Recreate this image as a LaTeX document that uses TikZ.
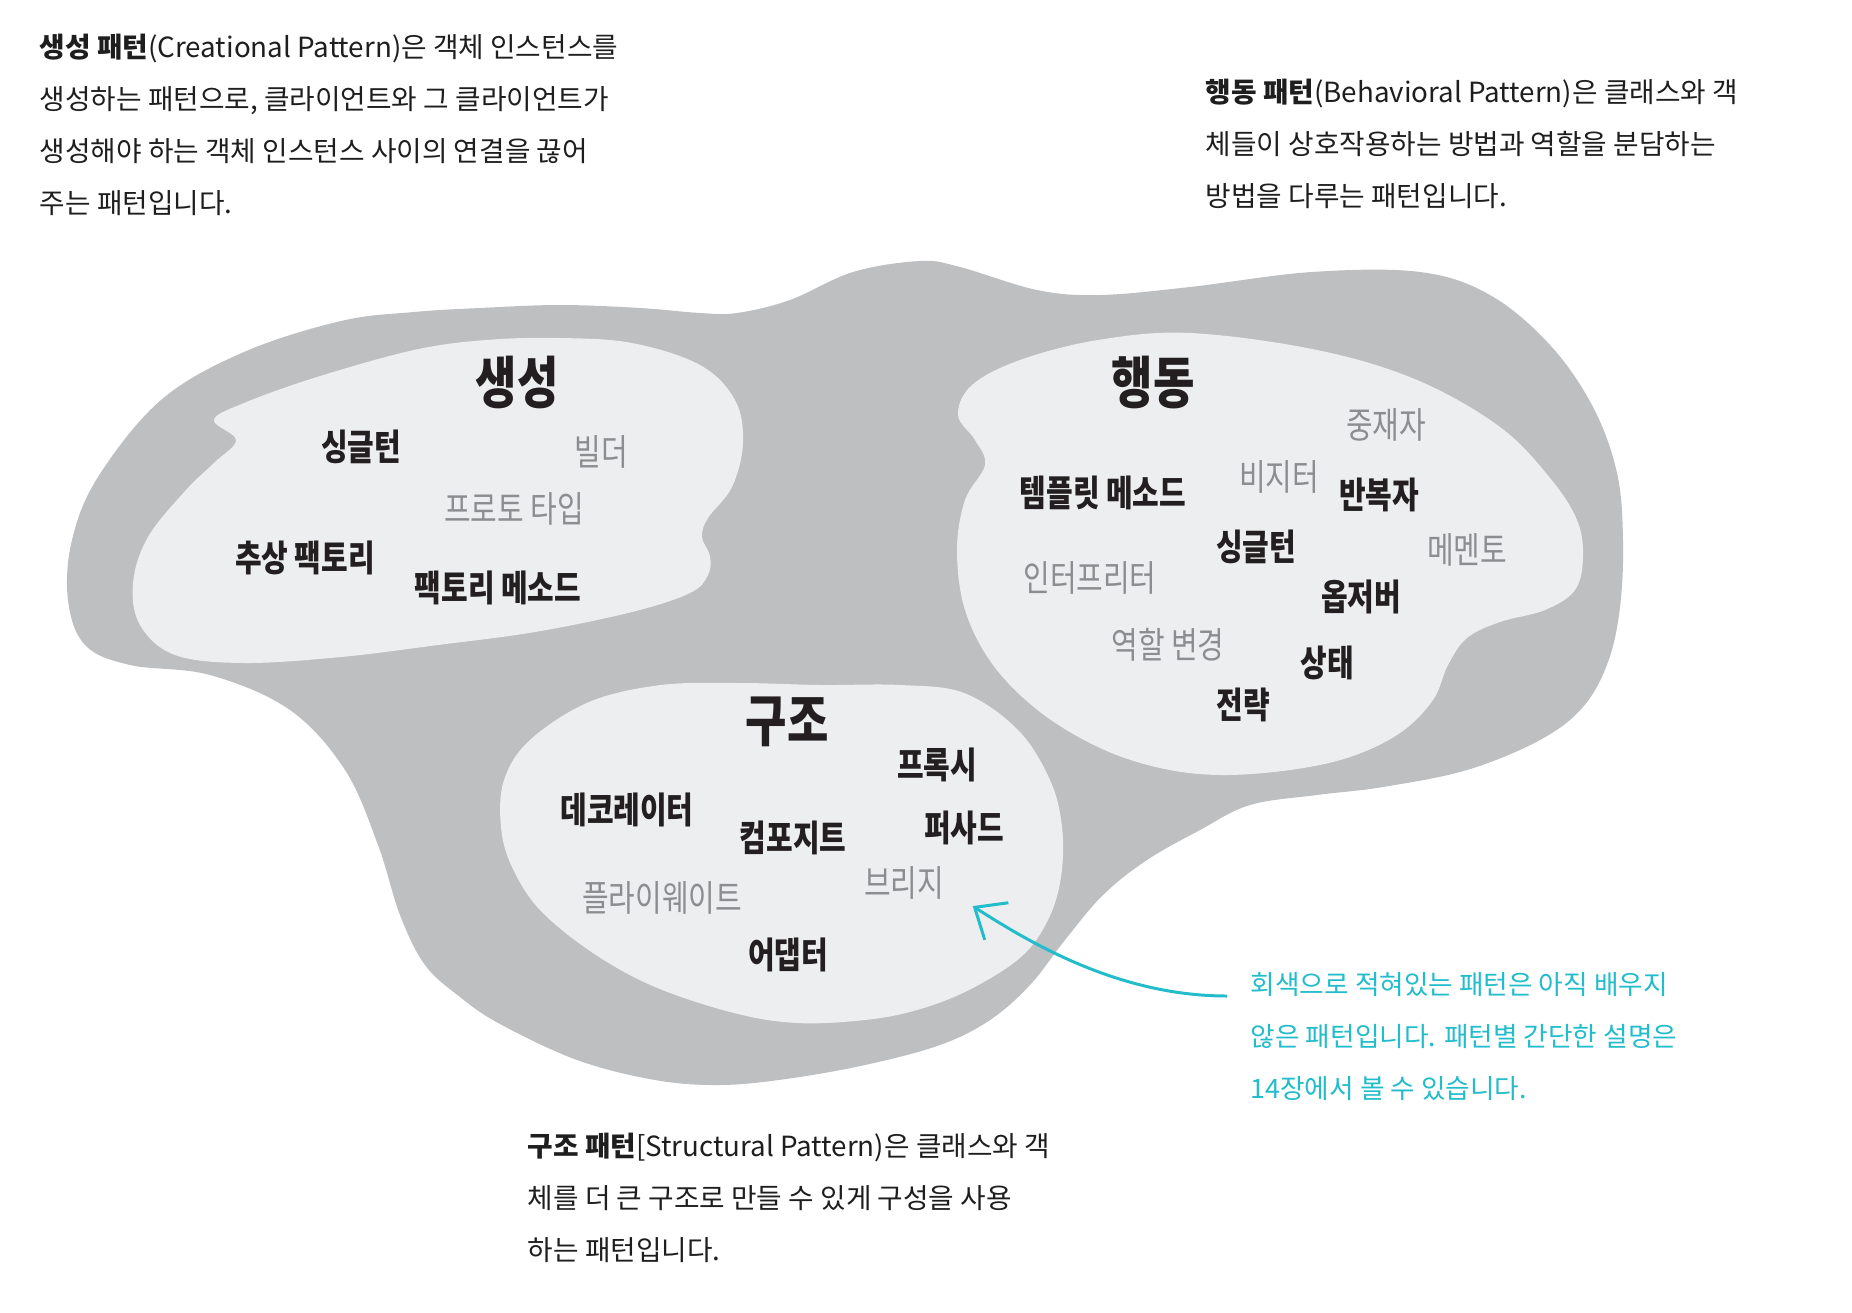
\documentclass[tikz,border=0pt]{standalone}
\usepackage{fontspec}
\setmainfont{Noto Sans CJK KR}
\newfontfamily\labelfont[FakeStretch=0.8]{Noto Sans CJK KR}
\usetikzlibrary{arrows.meta}

\definecolor{outergray}{HTML}{BEBFC1}
\definecolor{innergray}{HTML}{EDEEEF}
\definecolor{knowntext}{HTML}{231F20}
\definecolor{unknowntext}{HTML}{8B8D90}
\definecolor{desctext}{HTML}{1E1E1E}
\definecolor{notecyan}{HTML}{22BCCB}

\tikzset{
  outerblob/.style={fill=outergray},
  innerblob/.style={fill=innergray},
  grouptitle/.style={font=\labelfont\bfseries\fontsize{16}{18}\selectfont, text=knowntext, inner sep=0pt},
  known/.style={font=\labelfont\bfseries\fontsize{10.3}{12}\selectfont, text=knowntext, inner sep=0pt},
  unknown/.style={font=\labelfont\fontsize{10.3}{12}\selectfont, text=unknowntext, inner sep=0pt},
  desc/.style={font=\fontsize{7.9}{14.8}\selectfont, text=desctext, align=left, anchor=north west, inner sep=0pt},
  notetext/.style={font=\fontsize{7.6}{14.8}\selectfont, text=notecyan, align=left, anchor=north west, inner sep=0pt},
  notearrow/.style={draw=notecyan, line width=0.85pt, -{Straight Barb[length=2.6mm,width=4.4mm]}}
}

\begin{document}
\begin{tikzpicture}[x=0.1mm, y=-0.1mm]
\useasboundingbox (0,0) rectangle (1852,1312);

% Define blobs
\fill[outerblob] plot[smooth cycle, tension=0.6] coordinates {
  (68,600) (85,645) (130,665) (210,675) (290,710) (345,770) (378,845) (400,915)
  (425,965) (460,997) (500,1024) (577,1060) (655,1080) (720,1085) (786,1079)
  (865,1065) (940,1045) (990,1020) (1030,985) (1065,940) (1103,895) (1147,860)
  (1200,830) (1250,805) (1317,795) (1383,787) (1467,770) (1540,740) (1583,707)
  (1608,662) (1620,607) (1623,540) (1617,473) (1593,407) (1550,345) (1490,295)
  (1420,272) (1312,272) (1190,287) (1100,295) (1037,290) (960,267) (920,261)
  (853,272) (790,300) (737,313) (700,313) (640,308) (560,305) (480,308)
  (414,312) (341,321) (244,352) (161,400) (98,477) (72,540)};
\fill[innerblob] plot[smooth cycle, tension=0.6] coordinates {
  (214,420) (244,403) (317,377) (414,350) (486,340) (559,338) (632,343) (700,365)
  (735,400) (743,443) (732,487) (708,518) (702,537) (710,556) (708,575) (690,593)
  (632,612) (535,632) (438,645) (341,657) (244,663) (175,655) (140,625) (133,583)
  (148,537) (186,490) (215,462) (236,440)};
\fill[innerblob] plot[smooth cycle, tension=0.6] coordinates {
  (1098,340) (1190,333) (1317,350) (1417,380) (1500,427) (1550,478) (1577,520)
  (1583,557) (1575,590) (1545,610) (1500,622) (1467,638) (1448,665) (1433,700)
  (1400,733) (1350,757) (1290,770) (1220,775) (1160,768) (1100,748) (1040,712)
  (993,665) (965,610) (957,550) (965,500) (985,465) (975,440) (958,415)
  (972,385) (1020,360)};
\fill[innerblob] plot[smooth cycle, tension=0.6] coordinates {
  (661,685) (740,683) (820,685) (900,685) (964,693) (1018,730) (1050,780)
  (1062,827) (1061,877) (1048,920) (1021,957) (969,990) (917,1010) (865,1020)
  (797,1023) (734,1013) (655,987) (593,953) (540,910) (512,867) (501,827)
  (504,780) (530,740) (589,702)};

% Define nodes
\node (crdesc) at (39,33) [desc] {\textbf{생성 패턴}(Creational Pattern)은 객체 인스턴스를\\
생성하는 패턴으로, 클라이언트와 그 클라이언트가\\
생성해야 하는 객체 인스턴스 사이의 연결을 끊어\\
주는 패턴입니다.};
\node (bhdesc) at (1205,78) [desc] {\textbf{행동 패턴}(Behavioral Pattern)은 클래스와 객\\
체들이 상호작용하는 방법과 역할을 분담하는\\
방법을 다루는 패턴입니다.};
\node (stdesc) at (527,1132) [desc] {\textbf{구조 패턴}[Structural Pattern)은 클래스와 객\\
체를 더 큰 구조로 만들 수 있게 구성을 사용\\
하는 패턴입니다.};
\node (note) at (1250,972) [notetext] {회색으로 적혀있는 패턴은 아직 배우지\\
않은 패턴입니다. 패턴별 간단한 설명은\\
14장에서 볼 수 있습니다.};

\node (crtitle) at (517,382) [grouptitle] {생성};
\node (crsingleton) at (361,447) [known] {싱글턴};
\node (crbuilder) at (601,452) [unknown] {빌더};
\node (crproto) at (514,509) [unknown] {프로토 타입};
\node (crabsfac) at (305,558) [known] {추상 팩토리};
\node (crfacmeth) at (498,588) [known] {팩토리 메소드};

\node (bhtitle) at (1153,383) [grouptitle] {행동};
\node (bhmediator) at (1386,425) [unknown] {중재자};
\node (bhvisitor) at (1279,477) [unknown] {비지터};
\node (bhtemplate) at (1103,493) [known] {템플릿 메소드};
\node (bhiterator) at (1379,495) [known] {반복자};
\node (bhsingleton) at (1256,547) [known] {싱글턴};
\node (bhmemento) at (1467,550) [unknown] {메멘토};
\node (bhinterp) at (1090,578) [unknown] {인터프리터};
\node (bhobserver) at (1361,597) [known] {옵저버};
\node (bhrole) at (1168,645) [unknown] {역할 변경};
\node (bhstate) at (1327,663) [known] {상태};
\node (bhstrategy) at (1243,705) [known] {전략};

\node (sttitle) at (787,722) [grouptitle] {구조};
\node (stproxy) at (937,765) [known] {프록시};
\node (stdeco) at (627,810) [known] {데코레이터};
\node (stfacade) at (964,828) [known] {퍼사드};
\node (stcomp) at (793,838) [known] {컴포지트};
\node (stbridge) at (904,883) [unknown] {브리지};
\node (stfly) at (662,898) [unknown] {플라이웨이트};
\node (stadapter) at (788,955) [known] {어댑터};

% Draw arrow from the note to the bridge label
\draw[notearrow] ([shift={(-23,24)}]note.north west) .. controls +(-110,0) and +(55,35) .. ([shift={(28,6)}]stbridge.south east);
\end{tikzpicture}
\end{document}
